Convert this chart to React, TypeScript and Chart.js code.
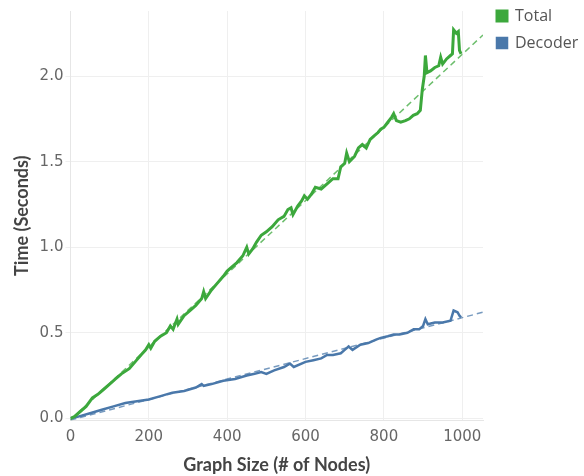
import React, { useEffect, useRef } from "react";
import { Chart, registerables } from "chart.js";

Chart.register(...registerables);

const totalX = [0, 10, 25, 40, 56, 70, 85, 100, 115, 130, 150, 165, 180, 192, 200, 205, 215, 230, 245, 255, 262, 272, 275, 290, 305, 320, 335, 340, 345, 360, 375, 390, 400, 410, 425, 440, 450, 455, 465, 475, 487, 500, 515, 530, 545, 555, 563, 568, 580, 590, 597, 605, 615, 625, 640, 655, 670, 683, 690, 700, 705, 712, 725, 735, 745, 755, 765, 775, 785, 792, 800, 810, 820, 825, 832, 843, 855, 865, 875, 885, 893, 898, 903, 906, 910, 919, 930, 940, 945, 950, 960, 970, 975, 978, 985, 990, 993, 997];
const totalY = [0.0, 0.01, 0.04, 0.07, 0.12, 0.14, 0.17, 0.2, 0.23, 0.26, 0.29, 0.33, 0.37, 0.4, 0.43, 0.41, 0.45, 0.48, 0.5, 0.54, 0.52, 0.58, 0.55, 0.6, 0.63, 0.66, 0.7, 0.74, 0.7, 0.75, 0.79, 0.83, 0.86, 0.88, 0.91, 0.95, 1.0, 0.96, 0.99, 1.03, 1.07, 1.09, 1.12, 1.16, 1.18, 1.22, 1.23, 1.19, 1.24, 1.27, 1.3, 1.28, 1.31, 1.35, 1.34, 1.37, 1.4, 1.4, 1.47, 1.49, 1.55, 1.5, 1.53, 1.58, 1.6, 1.58, 1.63, 1.65, 1.67, 1.69, 1.7, 1.73, 1.76, 1.78, 1.74, 1.73, 1.74, 1.75, 1.77, 1.78, 1.8, 1.92, 2.0, 2.12, 2.02, 2.03, 2.05, 2.06, 2.11, 2.07, 2.1, 2.12, 2.13, 2.27, 2.25, 2.26, 2.15, 2.13];

const decoderX = [0, 20, 50, 80, 110, 140, 170, 200, 230, 260, 290, 320, 335, 340, 360, 390, 420, 450, 470, 487, 500, 520, 545, 560, 570, 600, 620, 640, 655, 670, 690, 700, 710, 720, 740, 760, 780, 792, 810, 825, 840, 860, 876, 890, 900, 906, 912, 930, 950, 970, 978, 988, 993, 997];
const decoderY = [0.0, 0.01, 0.03, 0.05, 0.07, 0.09, 0.1, 0.11, 0.13, 0.15, 0.16, 0.18, 0.2, 0.19, 0.2, 0.22, 0.23, 0.25, 0.26, 0.27, 0.26, 0.28, 0.3, 0.32, 0.3, 0.33, 0.34, 0.35, 0.37, 0.37, 0.38, 0.4, 0.42, 0.4, 0.43, 0.44, 0.46, 0.47, 0.48, 0.49, 0.49, 0.5, 0.52, 0.52, 0.54, 0.58, 0.55, 0.56, 0.56, 0.57, 0.63, 0.62, 0.6, 0.59];

const trendX = [0, 1053];
const totalTrendY = [-0.01, 2.24];
const decoderTrendY = [-0.01, 0.62];

const xTicks = [0, 200, 400, 600, 800, 1000];
const yTicks = [0, 0.5, 1.0, 1.5, 2.0];

const GREEN = "#3ca83c";
const BLUE = "#4a78aa";
const TICK_FONT = "'DejaVu Sans', sans-serif";
const LEGEND_FONT = "'Open Sans', sans-serif";
const TITLE_FONT = "Lato, 'Open Sans', sans-serif";

const pts = (xs: number[], ys: number[]) => xs.map((x, i) => ({ x, y: ys[i] }));

const legendShift = {
  id: "legendShift",
  afterLayout(chart: any) {
    const lg = chart.legend;
    if (lg) {
      lg.left += 3;
      lg.top -= 10;
    }
  },
};

export default function App() {
  const ref = useRef<HTMLCanvasElement | null>(null);
  useEffect(() => {
    if (!ref.current) return;
    const chart = new Chart(ref.current, {
      type: "scatter",
      plugins: [legendShift],
      data: {
        datasets: [
          {
            label: "Total",
            data: pts(totalX, totalY),
            showLine: true,
            borderColor: GREEN,
            backgroundColor: GREEN,
            borderWidth: 3,
            pointRadius: 0,
            tension: 0,
          },
          {
            label: "Decoder",
            data: pts(decoderX, decoderY),
            showLine: true,
            borderColor: BLUE,
            backgroundColor: BLUE,
            borderWidth: 2.5,
            pointRadius: 0,
            tension: 0,
          },
          {
            label: "trendTotal",
            data: pts(trendX, totalTrendY),
            showLine: true,
            borderColor: "rgba(60,168,60,0.75)",
            borderWidth: 1.5,
            borderDash: [6, 4],
            pointRadius: 0,
          },
          {
            label: "trendDecoder",
            data: pts(trendX, decoderTrendY),
            showLine: true,
            borderColor: "rgba(74,120,170,0.75)",
            borderWidth: 1.5,
            borderDash: [6, 4],
            pointRadius: 0,
          },
        ],
      },
      options: {
        animation: false,
        responsive: false,
        maintainAspectRatio: false,
        layout: { padding: { top: 7, right: 0, left: 0, bottom: 0 } },
        plugins: {
          tooltip: { enabled: false },
          legend: {
            position: "right",
            align: "start",
            maxWidth: 101,
            labels: {
              boxWidth: 10,
              boxHeight: 10,
              padding: 11,
              color: "#555",
              font: { family: LEGEND_FONT, size: 16 },
              filter: (item: any) => item.text === "Total" || item.text === "Decoder",
            },
          },
        },
        scales: {
          x: {
            type: "linear",
            min: 0,
            max: 1053,
            afterBuildTicks: (scale: any) => {
              scale.ticks = xTicks.map((v) => ({ value: v }));
            },
            grid: { color: "#efefef", lineWidth: 1, drawTicks: false },
            border: { color: "#e6e6e6" },
            ticks: {
              color: "#666",
              font: { family: TICK_FONT, size: 15 },
              padding: 8,
              callback: (v: any) => String(v),
            },
            title: {
              display: true,
              text: "Graph Size (# of Nodes)",
              color: "#444",
              font: { family: TITLE_FONT, size: 18, weight: "bold" },
              padding: { top: 0, bottom: 0 },
            },
          },
          y: {
            type: "linear",
            min: -0.012,
            max: 2.38,
            afterBuildTicks: (scale: any) => {
              scale.ticks = yTicks.map((v) => ({ value: v }));
            },
            grid: { color: "#efefef", lineWidth: 1, tickLength: 5 },
            border: { color: "#e6e6e6" },
            ticks: {
              color: "#666",
              font: { family: TICK_FONT, size: 15 },
              padding: 2,
              callback: (v: any) => Number(v).toFixed(1),
            },
            title: {
              display: true,
              text: "Time (Seconds)",
              color: "#444",
              font: { family: TITLE_FONT, size: 18, weight: "bold" },
              padding: { top: 11, bottom: 5 },
            },
          },
        },
      },
    });
    return () => chart.destroy();
  }, []);
  return (
    <div style={{ position: "fixed", left: 0, top: 0, width: 584, height: 476, background: "#fff" }}>
      <canvas ref={ref} width={584} height={476} style={{ width: 584, height: 476 }} />
    </div>
  );
}
